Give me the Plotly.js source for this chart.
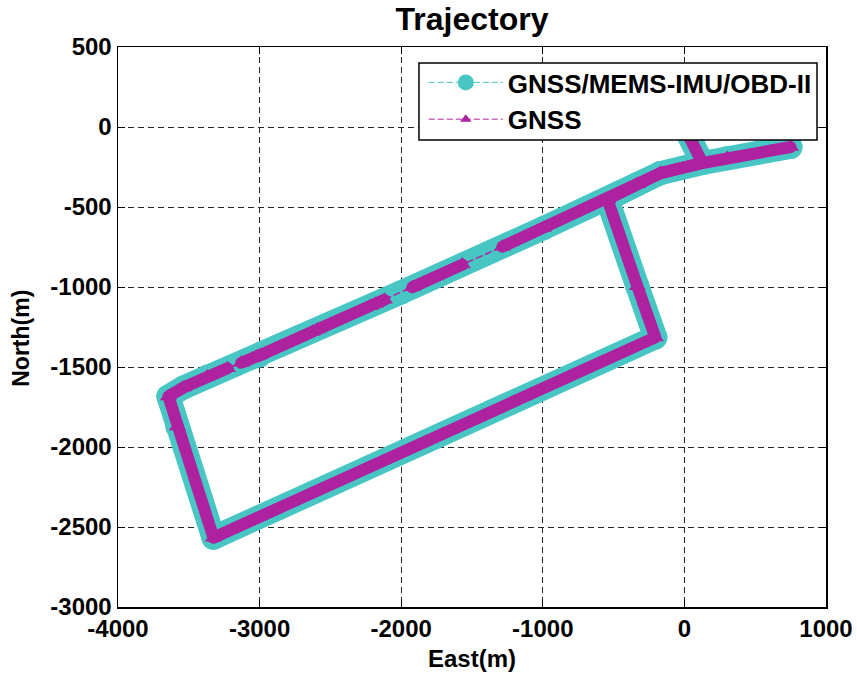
<!DOCTYPE html>
<html>
<head>
<meta charset="utf-8">
<script src="https://cdn.plot.ly/plotly-3.0.1.min.js"></script>
<style>
  html, body { margin: 0; padding: 0; background: #fff; }
  #chart { width: 857px; height: 677px; }
  .scatterlayer path.js-line { stroke-linejoin: round !important; stroke-linecap: round !important; }
</style>
</head>
<body>
<div id="chart"></div>
<script>
// ---- Data ----
// GNSS/MEMS-IMU/OBD-II integrated trajectory waypoints (East, North in metres)
const fusionEast  = [0, 127, -169, -332, -544, -332, -205, -3326, -3581, -3644, -3538, -3369, -3001, -1999, -996, -544, -332, -169, 127, 304, 749];
const fusionNorth = [0, -225, -288, -357, -451, -996, -1315, -2567, -1872, -1684, -1628, -1559, -1428, -1033, -632, -451, -357, -288, -225, -194, -125];

// GNSS-only trajectory (with outages on the northern road)
const gnssEast  = [0, 127, -169, -332, -544, -332, -205, -3326, -3581, -3644, -3538, -3369, -3227, -3129, -3051, -3023, -3001, -2627, -2592, -2218, -2182, -2119, -1921, -1568, -1285, -996, -544, -332, -169, 127, 304, 749];
const gnssNorth = [0, -225, -288, -357, -451, -996, -1315, -2567, -1872, -1684, -1628, -1559, -1508, -1474, -1445, -1435, -1428, -1280, -1266, -1118, -1105, -1080, -1002, -860, -748, -632, -451, -357, -288, -225, -194, -125];
// indices of GNSS points followed by a signal outage
const gnssOutageAfter = [12, 14, 17, 19, 21, 23];

const seriesNames = ['GNSS/MEMS-IMU/OBD-II', 'GNSS'];
const xTickVals = [-4000, -3000, -2000, -1000, 0, 1000];
const xTickText = ['-4000', '-3000', '-2000', '-1000', '0', '1000'];
const yTickVals = [-3000, -2500, -2000, -1500, -1000, -500, 0, 500];
const yTickText = ['-3000', '-2500', '-2000', '-1500', '-1000', '-500', '0', '500'];

// ---- Build traces ----
const CYAN = '#47C6C4';
const MAGENTA = '#AE22A0';
const FONT = 'Liberation Sans, Arial, Helvetica, sans-serif';

// GNSS band with gaps at outages
const bandX = [], bandY = [];
gnssEast.forEach((e, i) => {
  bandX.push(e); bandY.push(gnssNorth[i]);
  if (gnssOutageAfter.includes(i)) { bandX.push(null); bandY.push(null); }
});

const traces = [
  { // fused trajectory: thick cyan band of dense circles
    x: fusionEast, y: fusionNorth, type: 'scatter', mode: 'lines+markers',
    line: { color: CYAN, width: 24 },
    marker: { color: CYAN, size: 24, symbol: 'circle', line: { width: 0 } },
    showlegend: false, hoverinfo: 'skip'
  },
  { // GNSS connecting dashed line
    x: gnssEast, y: gnssNorth, type: 'scatter', mode: 'lines',
    line: { color: MAGENTA, width: 1.5, dash: '6px,4px' },
    showlegend: false, hoverinfo: 'skip'
  },
  { // GNSS dense triangles band
    x: bandX, y: bandY, type: 'scatter', mode: 'lines+markers',
    connectgaps: false,
    line: { color: MAGENTA, width: 12 },
    marker: { color: MAGENTA, size: 15, symbol: 'triangle-up', line: { width: 0 } },
    showlegend: false, hoverinfo: 'skip'
  },
  { // legend entries
    x: [null], y: [null], type: 'scatter', mode: 'lines+markers', name: seriesNames[0],
    line: { color: CYAN, width: 1, dash: '6px,3px' },
    marker: { color: CYAN, size: 18, symbol: 'circle' }
  },
  {
    x: [null], y: [null], type: 'scatter', mode: 'lines+markers', name: seriesNames[1],
    line: { color: MAGENTA, width: 1, dash: '6px,3px' },
    marker: { color: MAGENTA, size: 10, symbol: 'triangle-up' }
  }
];

const axisCommon = {
  showgrid: true, gridcolor: '#262626', gridwidth: 1, griddash: '6px,4px',
  zeroline: false, showline: true, linecolor: '#000', linewidth: 1.5,
  mirror: 'allticks', ticks: 'inside', ticklen: 7, tickcolor: '#000', tickwidth: 1,
  tickfont: { family: FONT, size: 24, color: '#000', weight: 'bold' },
  tickmode: 'array'
};

const layout = {
  width: 857, height: 677,
  margin: { l: 118, r: 31, t: 47, b: 70 },
  paper_bgcolor: '#fff', plot_bgcolor: '#fff',
  title: {
    text: 'Trajectory', x: 0.5, xref: 'paper', y: 0.972, yref: 'container', yanchor: 'middle',
    font: { family: FONT, size: 32, color: '#000', weight: 'bold' }
  },
  xaxis: Object.assign({}, axisCommon, {
    range: [-4000, 1000], tickvals: xTickVals, ticktext: xTickText,
    title: { text: 'East(m)', standoff: 9, font: { family: FONT, size: 24, color: '#000', weight: 'bold' } }
  }),
  yaxis: Object.assign({}, axisCommon, {
    range: [-3000, 500], tickvals: yTickVals, ticktext: yTickText,
    title: { text: '' }
  }),
  annotations: [{
    text: 'North(m)', textangle: -90, xref: 'paper', yref: 'paper',
    x: -0.137, y: 0.479, xanchor: 'center', yanchor: 'middle', showarrow: false,
    font: { family: FONT, size: 23, color: '#000', weight: 'bold' }
  }],
  shapes: [{ // legend box
    type: 'rect', xref: 'paper', yref: 'paper', layer: 'above',
    x0: 0.4251, x1: 0.9873, y0: 0.8339, y1: 0.9714,
    fillcolor: '#fff', line: { color: '#000', width: 1.5 }
  }],
  legend: {
    x: 0.987, y: 0.9786, xanchor: 'right', yanchor: 'top',
    bgcolor: 'rgba(0,0,0,0)', borderwidth: 0,
    font: { family: FONT, size: 26, color: '#000', weight: 'bold' },
    itemwidth: 74, itemsizing: 'trace', tracegroupgap: 0
  },
  showlegend: true
};

Plotly.newPlot('chart', traces, layout, { displayModeBar: false, staticPlot: true });
</script>
</body>
</html>
